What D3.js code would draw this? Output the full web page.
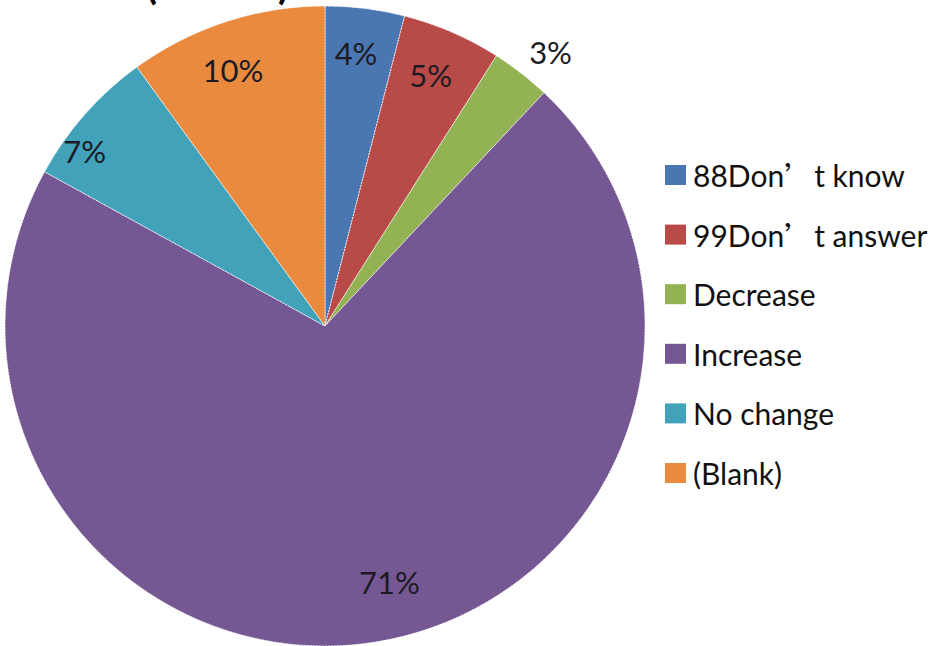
<!DOCTYPE html>
<html>
<head>
<meta charset="utf-8">
<script src="https://cdn.jsdelivr.net/npm/d3@7"></script>
<style>
  html, body { margin: 0; padding: 0; background: #ffffff; }
  svg { display: block; }
</style>
</head>
<body>
<svg id="chart" width="939" height="646"></svg>
<script>
// Answer categories and their shares (percent)
const categories = ["88Don’t know", "99Don’t answer", "Decrease", "Increase", "No change", "(Blank)"];
const values = [4, 5, 3, 71, 7, 10];
const colors = ["#4a77b2", "#b84a48", "#92b253", "#755893", "#41a2ba", "#e98a3e"];

const W = 939, H = 646;
const cx = 325, cy = 326, R = 320;

const svg = d3.select("#chart");
const FONT = "Lato, 'Open Sans', sans-serif";

// Title line (sits mostly above the visible area)
const title = svg.append("g").attr("font-family", FONT).attr("font-weight", 700)
  .attr("font-size", 40).attr("fill", "#000");
title.append("text").attr("x", 146).attr("y", -1).text("(");
title.append("text").attr("x", 278).attr("y", -1).text(")");

const data = categories.map((c, i) => ({ name: c, value: values[i], color: colors[i] }));

const pie = d3.pie().value(d => d.value).sort(null);
const arcs = pie(data);
const arc = d3.arc().innerRadius(0).outerRadius(R);

const g = svg.append("g").attr("transform", `translate(${cx},${cy})`);

g.selectAll("path.slice").data(arcs).enter().append("path")
  .attr("class", "slice")
  .attr("d", arc)
  .attr("fill", d => d.data.color)
  .attr("stroke", "rgba(255,255,255,0.75)")
  .attr("stroke-width", 1)
  .attr("stroke-dasharray", "2,1");

// Label placement: fraction along the slice angle and radius factor
const labelPlace = {
  "88Don’t know": [0.45, 0.86],
  "99Don’t answer": [0.47, 0.85],
  "Decrease": [0.65, 1.11],
  "Increase": [0.48, 0.825],
  "No change": [0.29, 0.93],
  "(Blank)": [0.45, 0.85]
};

g.selectAll("text.pct").data(arcs).enter().append("text")
  .attr("class", "pct")
  .each(function(d) {
    const [t, rf] = labelPlace[d.data.name];
    const a = d.startAngle + (d.endAngle - d.startAngle) * t;
    const r = R * rf;
    d3.select(this)
      .attr("x", r * Math.sin(a))
      .attr("y", -r * Math.cos(a));
  })
  .attr("text-anchor", "middle")
  .attr("dominant-baseline", "central")
  .attr("font-family", FONT)
  .attr("font-size", 31)
  .attr("fill", "#1c1b24")
  .text(d => Math.round(d.data.value) + "%");

// Legend
const legend = svg.append("g").attr("transform", "translate(665,165)");
const rowH = 59.6;
const item = legend.selectAll("g.item").data(data).enter().append("g")
  .attr("class", "item")
  .attr("transform", (d, i) => `translate(0,${i * rowH})`);

item.append("rect")
  .attr("width", 21).attr("height", 20)
  .attr("fill", d => d.color);

item.append("text")
  .attr("x", 28).attr("y", 10)
  .attr("dominant-baseline", "central")
  .attr("font-family", FONT)
  .attr("font-size", 30)
  .attr("fill", "#111")
  .each(function(d) {
    const el = d3.select(this);
    const parts = d.name.split("’");
    if (parts.length === 2) {
      el.append("tspan").text(parts[0]);
      el.append("tspan").attr("font-family", "'Noto Sans CJK SC'").text("’");
      el.append("tspan").text(parts[1]);
    } else {
      el.text(d.name);
    }
  });
</script>
</body>
</html>
